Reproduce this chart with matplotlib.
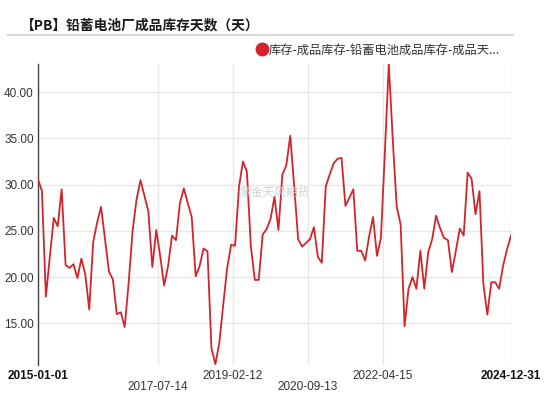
#!/usr/bin/env python3
# PB 铅蓄电池厂成品库存天数 — 折线图复刻

import numpy as np
import pandas as pd
import matplotlib
matplotlib.use("Agg")
import matplotlib.pyplot as plt
from matplotlib.lines import Line2D

# ----------------------------------------------------------
# 数据
# ----------------------------------------------------------
START = "2015-01-01"
END = "2024-12-31"

values = [
    30.6, 29.3, 17.9, 22.2, 26.4, 25.5, 29.5, 21.3, 21.0, 21.4,
    19.9, 22.0, 20.3, 16.5, 23.8, 25.9, 27.6, 24.1, 20.6, 19.75,
    16.0, 16.2, 14.6, 19.4, 25.0, 28.4, 30.5, 28.8, 27.1, 21.1,
    25.1, 22.3, 19.1, 21.2, 24.5, 24.0, 28.0, 29.6, 28.0, 26.5,
    20.1, 21.2, 23.1, 22.8, 12.3, 10.6, 12.9, 17.05, 21.0, 23.5,
    23.4, 29.8, 32.5, 31.4, 23.35, 19.7, 19.7, 24.6, 25.2, 26.3,
    28.7, 25.1, 31.1, 32.1, 35.3, 29.8, 24.1, 23.3, 23.7, 24.1,
    25.4, 22.2, 21.55, 29.8, 31.1, 32.3, 32.8, 32.9, 27.7, 28.6,
    29.5, 22.85, 22.85, 21.8, 24.4, 26.5, 22.3, 24.25, 33.5, 43.05,
    34.9, 27.65, 25.7, 14.7, 18.75, 20.0, 18.75, 22.85, 18.75, 22.7,
    24.1, 26.65, 25.3, 24.25, 24.0, 20.55, 22.8, 25.25, 24.5, 31.3,
    30.65, 26.8, 29.3, 19.2, 15.95, 19.45, 19.45, 18.75, 21.25, 23.0,
    24.5,
]
dates = pd.date_range(START, END, periods=len(values))

tick_dates = ["2015-01-01", "2017-07-14", "2019-02-12", "2020-09-13",
              "2022-04-15", "2024-12-31"]
tick_rows = [0, 1, 0, 1, 0, 0]
tick_bold = [True, False, False, False, False, True]

y_ticks = [15, 20, 25, 30, 35, 40]

TITLE = "【PB】铅蓄电池厂成品库存天数（天）"
SERIES = "库存-成品库存-铅蓄电池成品库存-成品天..."
WATERMARK = "紫金天风期货"

# ----------------------------------------------------------
# 样式
# ----------------------------------------------------------
RED = "#d3242b"
GRID = "#e8e8e8"
TXT = "#333333"
CJK = ["Noto Sans CJK SC", "DejaVu Sans"]
NUM = ["Liberation Sans", "DejaVu Sans"]

fig = plt.figure(figsize=(5.5, 3.93), dpi=100)
ax = fig.add_axes([38 / 550, 1 - 365 / 393, 473 / 550, 301 / 393])

ax.plot(dates, values, color=RED, lw=1.3, zorder=5)

ax.set_xlim(pd.Timestamp(START), pd.Timestamp(END))
ax.set_ylim(10.5, 43.05)

ax.set_yticks(y_ticks)
ax.set_yticklabels([f"{v:.2f}" for v in y_ticks], family=NUM, fontsize=8.5, color=TXT)
ax.tick_params(axis="y", length=0, pad=3)
ax.grid(axis="y", color=GRID, lw=1, zorder=0)

ax.set_xticks([pd.Timestamp(d) for d in tick_dates])
ax.set_xticklabels([])
ax.tick_params(axis="x", length=0)
ax.grid(axis="x", color=GRID, lw=1, zorder=0)

for d, row, bold in zip(tick_dates, tick_rows, tick_bold):
    ax.text(pd.Timestamp(d), -0.035 - 0.037 * row, d,
            transform=ax.get_xaxis_transform(), ha="center", va="center",
            family=NUM, fontsize=8.5, color="#111111" if bold else TXT,
            fontweight="bold" if bold else "normal")

for s in ["top", "right", "bottom"]:
    ax.spines[s].set_visible(False)
ax.spines["left"].set_color("#444444")
ax.spines["left"].set_linewidth(1)

# 标题与分隔线
fig.text(21 / 550, 1 - 25 / 393, TITLE, family=CJK, fontsize=9.9,
         fontweight="bold", color="#1a1a1a", ha="left", va="center")
fig.add_artist(Line2D([8 / 550, 513 / 550], [1 - 35 / 393, 1 - 35 / 393],
                      color="#d9d9d9", lw=1.6, transform=fig.transFigure))

# 图例
handle = Line2D([], [], marker="o", color=RED, linestyle="none", markersize=9)
fig.legend([handle], [SERIES], loc="center left",
           bbox_to_anchor=(257 / 550, 1 - 50 / 393), frameon=False,
           handlelength=0.8, handletextpad=0.15, borderpad=0, borderaxespad=0,
           prop={"family": CJK, "size": 8.8}, labelcolor=TXT)

# 水印
fig.text(275 / 550, 1 - 192 / 393, WATERMARK, family=CJK, fontsize=8.5,
         color="#d2d2d2", ha="center", va="center", zorder=1)

fig.savefig("out.png", dpi=100)
